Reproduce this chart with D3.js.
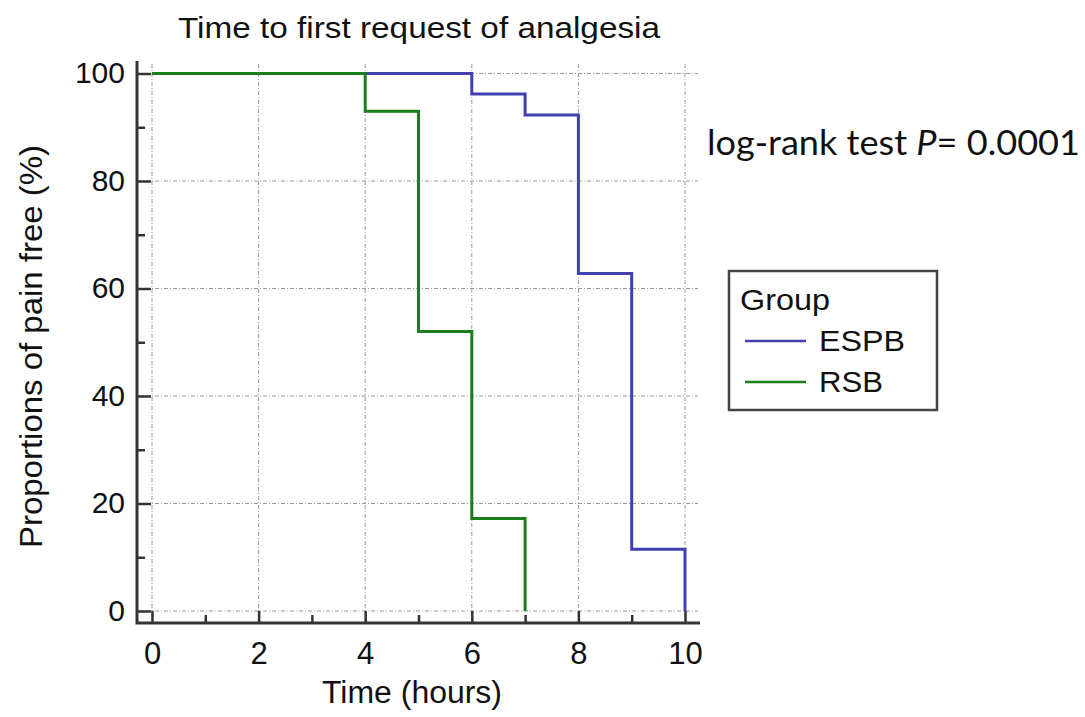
<!DOCTYPE html>
<html>
<head>
<meta charset="utf-8">
<script src="https://cdn.jsdelivr.net/npm/d3@7"></script>
<style>
  body { margin: 0; background: #fff; }
  svg { display: block; }
  text { font-family: "Liberation Sans", Arial, sans-serif; fill: #111; }
</style>
</head>
<body>
<svg width="1085" height="717"></svg>
<script>
// survival steps
var espbTime = [0, 6, 7, 8, 9, 10];
var espbPct = [100, 96.2, 92.3, 62.8, 11.5, 0];
var rsbTime = [0, 4, 5, 6, 7];
var rsbPct = [100, 93, 52, 17.2, 0];

var groups = ["ESPB", "RSB"];
var colors = ["#4040b0", "#1b7d1b"];
var xTicks = [0, 2, 4, 6, 8, 10];
var yTicks = [0, 20, 40, 60, 80, 100];

var svg = d3.select("svg");

var xScale = d3.scaleLinear().domain([0, 10]).range([152, 685]);
var yScale = d3.scaleLinear().domain([0, 100]).range([611, 73.5]);

var axisX = 137, axisY = 623;

// stretched text, the source image is a bit wider than the font
function fit(sel, w) {
  sel.attr("textLength", w).attr("lengthAdjust", "spacingAndGlyphs");
}

// dotted grid
var gridStyle = function(sel) {
  sel.attr("stroke", "#9a9a9a")
    .attr("stroke-width", 1)
    .attr("stroke-dasharray", "4,2,1,2");
};
svg.append("g").selectAll("line").data(xTicks).join("line")
  .attr("x1", function(d) { return xScale(d); })
  .attr("x2", function(d) { return xScale(d); })
  .attr("y1", 64).attr("y2", axisY)
  .call(gridStyle);
svg.append("g").selectAll("line").data(yTicks).join("line")
  .attr("x1", axisX).attr("x2", 698)
  .attr("y1", function(d) { return yScale(d); })
  .attr("y2", function(d) { return yScale(d); })
  .call(gridStyle);

// x axis: ticks point up into the plot
var xAxis = d3.axisTop(xScale).tickValues(d3.range(0, 11)).tickSize(12).tickFormat("");
var gx = svg.append("g").attr("transform", "translate(0," + axisY + ")").call(xAxis);
gx.select(".domain").remove();
gx.selectAll(".tick line").attr("stroke", "#333").attr("stroke-width", 2.5)
  .attr("y2", function(d) { return d % 2 ? -8 : -12; });
gx.selectAll(".tick").filter(function(d) { return d % 2 === 0; })
  .append("text")
  .attr("y", 41)
  .attr("text-anchor", "middle")
  .attr("font-size", 31)
  .text(function(d) { return d; });

// y axis: ticks point right into the plot
var yAxis = d3.axisRight(yScale).tickValues(d3.range(0, 101, 10)).tickSize(14).tickFormat("");
var gy = svg.append("g").attr("transform", "translate(" + axisX + ",0)").call(yAxis);
gy.select(".domain").remove();
gy.selectAll(".tick line").attr("stroke", "#333").attr("stroke-width", 2.5)
  .attr("x2", function(d) { return d % 20 ? 8 : 14; });
gy.selectAll(".tick").filter(function(d) { return d % 20 === 0; })
  .append("text")
  .attr("x", -12)
  .attr("dy", "0.3em")
  .attr("text-anchor", "end")
  .attr("font-size", 30)
  .text(function(d) { return d; });

// axis lines
svg.append("path")
  .attr("d", "M" + axisX + ",61V" + axisY + "H700")
  .attr("fill", "none")
  .attr("stroke", "#333")
  .attr("stroke-width", 3);

// survival curves
var line = d3.line()
  .x(function(d) { return xScale(d[0]); })
  .y(function(d) { return yScale(d[1]); })
  .curve(d3.curveStepAfter);

var series = [d3.zip(espbTime, espbPct), d3.zip(rsbTime, rsbPct)];
svg.append("g").selectAll("path").data(series).join("path")
  .attr("d", line)
  .attr("fill", "none")
  .attr("stroke", function(d, i) { return colors[i]; })
  .attr("stroke-width", 3);

// titles
svg.append("text")
  .attr("x", 178).attr("y", 38)
  .attr("font-size", 30)
  .call(fit, 482)
  .text("Time to first request of analgesia");

svg.append("text")
  .attr("x", 322).attr("y", 703)
  .attr("font-size", 31)
  .call(fit, 180)
  .text("Time (hours)");

svg.append("text")
  .attr("transform", "translate(42,548) rotate(-90)")
  .attr("font-size", 32)
  .call(fit, 403)
  .text("Proportions of pain free (%)");

// log-rank annotation
var note = svg.append("text")
  .attr("x", 707).attr("y", 155)
  .attr("font-size", 35)
  .style("font-family", "Lato, 'Open Sans', sans-serif")
  .call(fit, 373);
note.append("tspan").text("log-rank test ");
note.append("tspan").attr("font-style", "italic").text("P");
note.append("tspan").text("= 0.0001");

// legend
var legend = svg.append("g");
legend.append("rect")
  .attr("x", 729).attr("y", 271)
  .attr("width", 208).attr("height", 139)
  .attr("fill", "#fff")
  .attr("stroke", "#444")
  .attr("stroke-width", 2.5);
legend.append("text")
  .attr("x", 740).attr("y", 310)
  .attr("font-size", 29)
  .call(fit, 90)
  .text("Group");
var labelWidths = [86, 64];
var items = legend.selectAll("g.item").data(groups).join("g")
  .attr("class", "item")
  .attr("transform", function(d, i) { return "translate(0," + (341 + i * 41) + ")"; });
items.append("line")
  .attr("x1", 745).attr("x2", 806)
  .attr("stroke", function(d, i) { return colors[i]; })
  .attr("stroke-width", 2.5);
items.append("text")
  .attr("x", 819).attr("dy", "0.36em")
  .attr("font-size", 29)
  .attr("textLength", function(d, i) { return labelWidths[i]; })
  .attr("lengthAdjust", "spacingAndGlyphs")
  .text(function(d) { return d; });
</script>
</body>
</html>
